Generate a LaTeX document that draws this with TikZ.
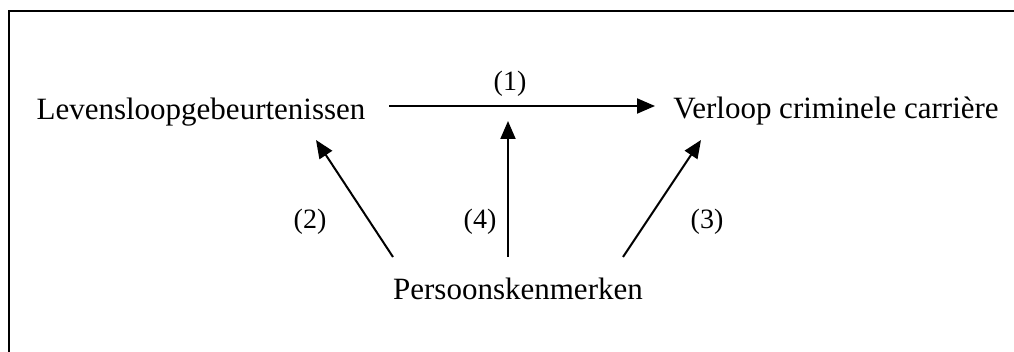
\documentclass[tikz,border=0pt]{standalone}
\usepackage{fontspec}
\setmainfont{Liberation Serif}
\usetikzlibrary{arrows.meta}
\begin{document}
\begin{tikzpicture}[x=1pt,y=-1pt,
  lbl/.style={font=\fontsize{31}{37}\selectfont, inner sep=0pt},
  num/.style={font=\fontsize{28}{34}\selectfont, inner sep=0pt},
  conn/.style={line width=2pt, -{Triangle[length=18pt,width=15pt]}}]
\useasboundingbox (0,0) rectangle (1014,352);
\draw[line width=2.2pt] (1014,11) -- (9,11) -- (9,352);
\node[lbl, anchor=base] (lev) at (201,120) {Levensloopgebeurtenissen};
\node[lbl, anchor=base] (ver) at (836,119) {Verloop criminele carrière};
\node[lbl, anchor=base] (per) at (518,300) {Persoonskenmerken};
\node[num] (n1) at (510,84) {(1)};
\node[num] (n2) at (310,222) {(2)};
\node[num] (n4) at (480,222) {(4)};
\node[num] (n3) at (707,222) {(3)};
\coordinate (a1s) at (389,106);
\coordinate (a1e) at (655,106);
\coordinate (a4s) at (508,257);
\coordinate (a4e) at (508,121);
\coordinate (a2s) at (393,257);
\coordinate (a2e) at (316,140);
\coordinate (a3s) at (623,257);
\coordinate (a3e) at (701,140);
\draw[conn] (a1s) -- (a1e);
\draw[conn] (a4s) -- (a4e);
\draw[conn] (a2s) -- (a2e);
\draw[conn] (a3s) -- (a3e);
\end{tikzpicture}
\end{document}
